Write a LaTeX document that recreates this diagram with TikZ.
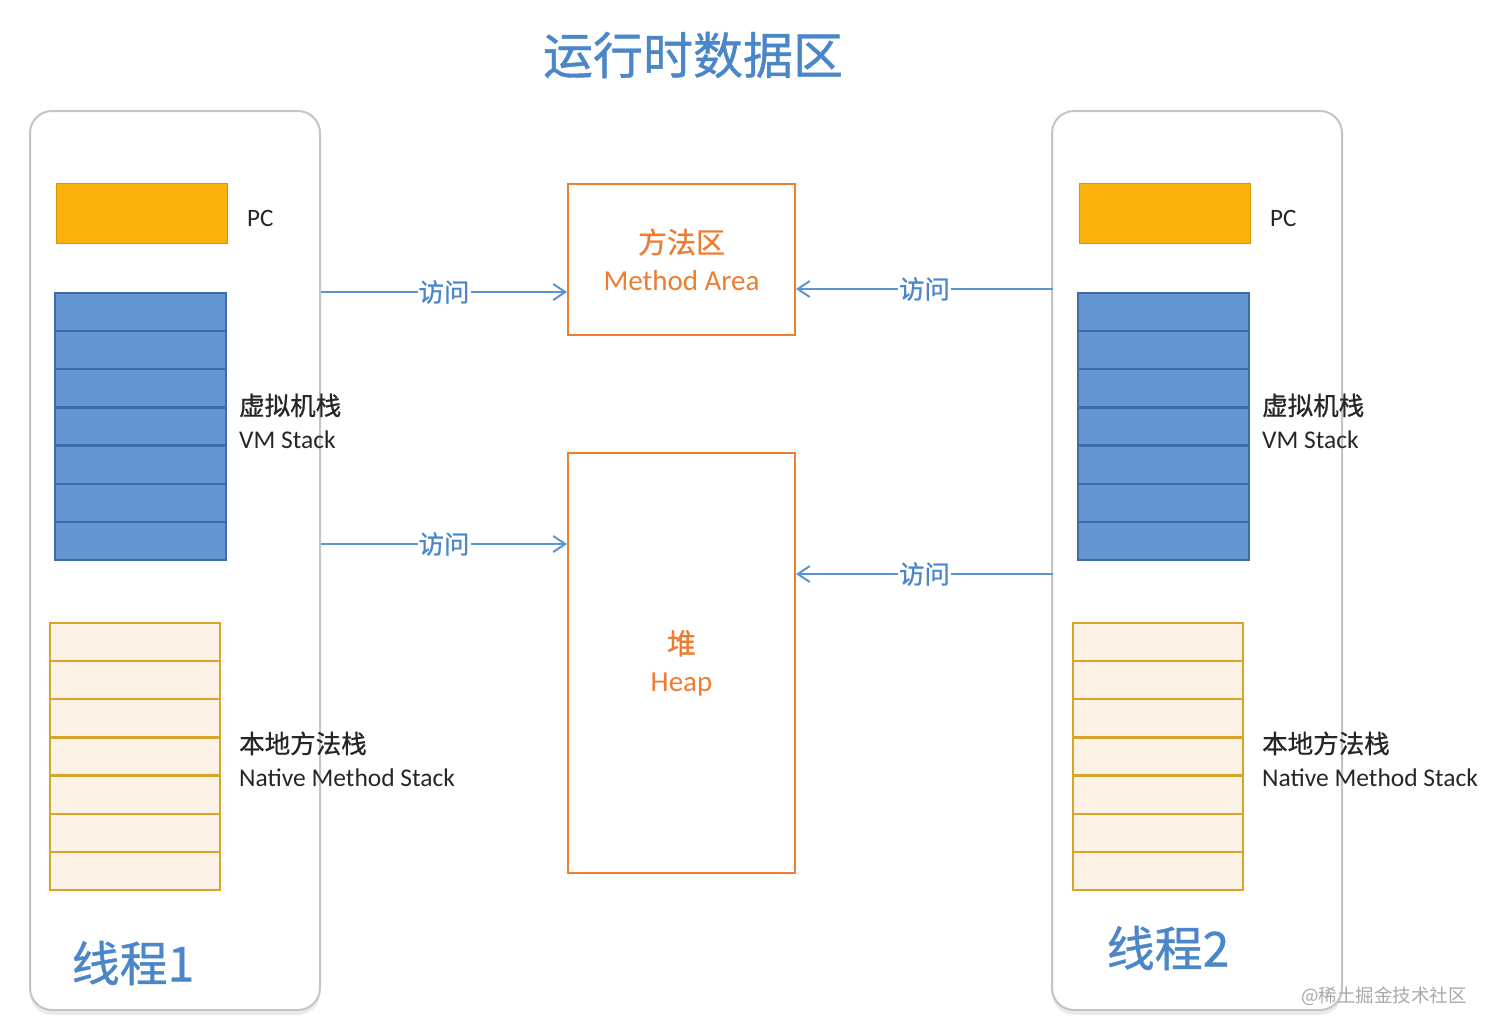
\documentclass[tikz,border=0pt]{standalone}
\usepackage{fontspec}
\setmainfont{Carlito}
\newfontfamily\cjk{Noto Sans CJK SC}[FakeBold=0.8]
\newfontfamily\cjkwm{Noto Sans CJK SC}
\usetikzlibrary{arrows.meta,shadows}
\definecolor{tblue}{HTML}{4A86C8}
\definecolor{aorange}{HTML}{ED7D31}
\definecolor{pcfill}{HTML}{FAB20A}
\definecolor{vmfill}{HTML}{6496D2}
\definecolor{vmdraw}{HTML}{3E6DAE}
\definecolor{nfill}{HTML}{FDF2E6}
\definecolor{ndraw}{HTML}{D8A429}
\definecolor{linkblue}{HTML}{5B93D3}
\definecolor{framegray}{HTML}{C4C4C4}
\definecolor{lbl}{HTML}{262626}
\definecolor{wm}{HTML}{A8A8A8}
\tikzset{
  threadbox/.style={draw=framegray, line width=2pt, fill=white, rounded corners=22pt,
    minimum width=290pt, minimum height=899pt, inner sep=0pt,
    drop shadow={shadow xshift=0pt, shadow yshift=-5pt, fill=tblue!50!gray!60, opacity=0.25}},
  pcbox/.style={fill=pcfill, draw=pcfill!85!black, line width=0.6pt, minimum width=171pt, minimum height=60pt, inner sep=0pt},
  vmrow/.style={fill=vmfill, draw=vmdraw, line width=2.2pt, minimum width=171pt, minimum height=38.14pt, inner sep=0pt},
  nrow/.style={fill=nfill, draw=ndraw, line width=2.2pt, minimum width=170pt, minimum height=38.14pt, inner sep=0pt},
  lbltext/.style={text=lbl, anchor=west, align=left, inner sep=0pt, font=\fontsize{25.5}{33}\selectfont},
  areabox/.style={draw=aorange, line width=2pt, minimum width=227pt, inner sep=0pt, align=center,
    text=aorange, font=\fontsize{29}{37}\selectfont},
  link/.style={draw=linkblue, line width=2pt, -{Straight Barb[length=12pt,width=16pt]}},
  linklbl/.style={fill=white, inner sep=1pt, text=tblue, font=\cjk\fontsize{25.5}{30}\selectfont},
  threadlbl/.style={text=tblue, font=\cjk\fontsize{48}{56}\selectfont},
}
\begin{document}
\begin{tikzpicture}[x=1pt,y=-1pt]
\useasboundingbox (0,0) rectangle (1494,1034);
% title
\node[text=tblue, font=\cjk\fontsize{50}{58}\selectfont] (title) at (693,55) {运行时数据区};
% thread containers
\node[threadbox] (t1) at (175,560.5) {};
\node[threadbox] (t2) at (1197,560.5) {};
% PC boxes
\node[pcbox] (pc1) at (141.5,213) {};
\node[pcbox] (pc2) at (1164.5,213) {};
\node[text=lbl, font=\fontsize{25}{30}\selectfont, anchor=west, inner sep=0pt] (pc1l) at (247,218) {PC};
\node[text=lbl, font=\fontsize{25}{30}\selectfont, anchor=west, inner sep=0pt] (pc2l) at (1270,218) {PC};
% VM stacks and native stacks
\foreach \i in {0,...,6} {
  \node[vmrow] (v1-\i) at (140.5,{293+38.14*(\i+0.5)}) {};
  \node[vmrow] (v2-\i) at (1163.5,{293+38.14*(\i+0.5)}) {};
  \node[nrow] (n1-\i) at (135,{623+38.14*(\i+0.5)}) {};
  \node[nrow] (n2-\i) at (1158,{623+38.14*(\i+0.5)}) {};
}
\node[lbltext] (vm1l) at (239,421) {{\cjk 虚拟机栈}\\VM Stack};
\node[lbltext] (vm2l) at (1262,421) {{\cjk 虚拟机栈}\\VM Stack};
\node[lbltext] (nm1l) at (239,759) {{\cjk 本地方法栈}\\Native Method Stack};
\node[lbltext] (nm2l) at (1262,759) {{\cjk 本地方法栈}\\Native Method Stack};
% thread labels
\node[threadlbl] (t1l) at (133,963) {线程1};
\node[threadlbl] (t2l) at (1168,948) {线程2};
% shared areas
\node[areabox, minimum height=151pt] (ma) at (681.5,259.5) {{\cjk 方法区}\\Method Area};
\node[areabox, minimum height=420pt] (heap) at (681.5,663) {{\cjk 堆}\\Heap};
% connectors
\coordinate (a1) at (t1.east |- 0,292);
\coordinate (a2) at (t1.east |- 0,544);
\coordinate (a3) at (1053,289);
\coordinate (a4) at (1053,574);
\draw[link] (a1) -- node[linklbl] {访问} (ma.west |- a1);
\draw[link] (a2) -- node[linklbl] {访问} (heap.west |- a2);
\draw[link] (a3) -- node[linklbl] {访问} (ma.east |- a3);
\draw[link] (a4) -- node[linklbl] {访问} (heap.east |- a4);
% watermark
\node[text=wm, font=\cjkwm\fontsize{18.5}{22}\selectfont, anchor=east, inner sep=0pt] (wmk) at (1467,996) {@稀土掘金技术社区};
\end{tikzpicture}
\end{document}
